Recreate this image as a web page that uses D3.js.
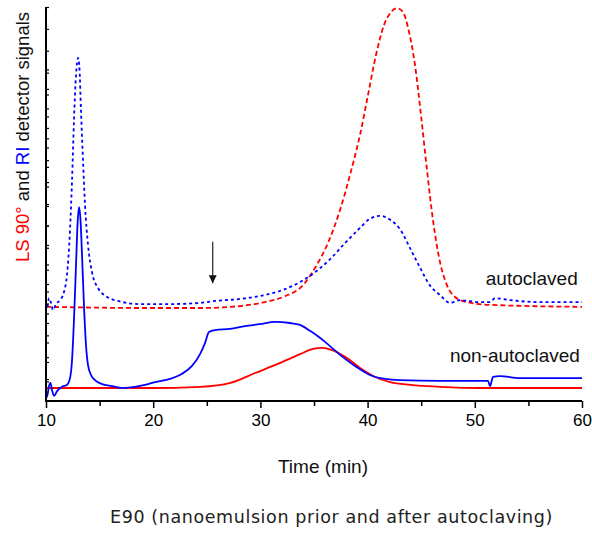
<!DOCTYPE html>
<html>
<head>
<meta charset="utf-8">
<script src="https://cdn.jsdelivr.net/npm/d3@7"></script>
<style>
  body { margin: 0; background: #fff; }
  svg { display: block; }
</style>
</head>
<body>
<svg id="chart" width="592" height="533"></svg>
<script>
// [time (min), signal (a.u.)]
const lsNonAutoclaved = [
  [10, 3.3], [19.7, 3.3], [24.4, 3.6], [27.2, 4.6], [29.5, 7.1], [31.8, 9.6],
  [33.7, 11.9], [34.9, 13.2], [35.7, 13.5], [36.7, 12.9], [37.9, 11.2], [39.3, 8.4],
  [40.7, 6.1], [42.1, 4.8], [44.0, 4.1], [46.8, 3.6], [50.5, 3.3], [60, 3.3]
]
const riNonAutoclaved = [
  [10, 2.3], [10.09, 1.0], [10.28, 3.8], [10.42, 4.6], [10.56, 2.8], [10.75, 1.3],
  [11.03, 2.5], [11.49, 3.6], [11.96, 4.1], [12.24, 5.8], [12.43, 10.4], [12.61, 20.6],
  [12.8, 34.5], [12.94, 44.7], [13.08, 49.2], [13.22, 45.9], [13.36, 37.1], [13.54, 24.4],
  [13.73, 14.2], [13.92, 9.1], [14.2, 6.6], [14.57, 5.3], [15.22, 4.3], [16.16, 3.8],
  [17.28, 3.3], [18.3, 3.6], [19.24, 4.1], [20.17, 4.8], [21.57, 5.6], [22.69, 6.9],
  [23.62, 8.9], [24.37, 11.9], [24.83, 14.7], [25.2, 17.5], [25.77, 18.0], [27.16, 18.3],
  [28.56, 19.0], [29.96, 19.5], [31.36, 20.1], [32.76, 19.8], [33.69, 19.3], [34.63, 17.8],
  [36.03, 15.0], [37.43, 11.7], [38.82, 8.9], [40.22, 6.6], [41.62, 5.6], [43.02, 5.3],
  [46.75, 5.1], [51.23, 5.1], [51.42, 3.8], [51.7, 6.1], [52.35, 6.3], [54.2, 5.8], [60, 5.8]
]
const lsAutoclaved = [
  [10, 23.9], [19.7, 23.6], [24.37, 23.6], [28.1, 24.1], [30.4, 25.1], [32.3, 26.6],
  [33.97, 29.4], [35.1, 33.8], [36.3, 40.1], [37.43, 48.5], [38.36, 57.4], [39.29, 67.5],
  [40.04, 77.7], [40.78, 87.8], [41.53, 95.4], [42.18, 98.7], [42.74, 99.7], [43.3, 98.7],
  [43.86, 93.7], [44.42, 85.3], [44.98, 72.6], [45.54, 58.6], [46.1, 45.9], [46.75, 35.3],
  [47.4, 29.4], [48.15, 26.4], [49.27, 25.1], [51.42, 24.4], [60, 23.9]
]
const riAutoclaved = [
  [10, 24.4], [10.09, 23.4], [10.28, 26.1], [10.47, 24.9], [10.65, 23.1], [10.93, 24.6],
  [11.31, 25.6], [11.68, 27.7], [11.96, 32.0], [12.24, 43.4], [12.43, 56.1], [12.61, 71.3],
  [12.8, 82.7], [12.99, 87.1], [13.13, 84.0], [13.26, 73.9], [13.45, 61.2], [13.64, 49.7],
  [13.92, 39.6], [14.29, 32.7], [14.85, 28.7], [15.6, 26.6], [16.72, 25.4], [18.77, 24.6],
  [21.57, 24.6], [24.37, 24.9], [25.77, 25.4], [28.1, 25.9], [30.4, 26.9], [32.3, 28.4],
  [33.7, 30.2], [35.1, 32.7], [36.5, 36.0], [37.9, 40.1], [39.1, 43.4], [40.2, 46.2],
  [41.16, 47.0], [42.1, 46.0], [43.0, 43.7], [43.96, 38.8], [44.9, 33.8], [45.8, 29.4],
  [46.75, 26.9], [47.7, 24.9], [48.6, 25.6], [50.5, 25.1], [51.4, 25.1], [51.9, 26.1],
  [53.3, 25.6], [56.1, 25.1], [60, 25.1]
]

const xTicks = [10, 20, 30, 40, 50, 60]
const xMinorTicks = [15, 25, 35, 45, 55]
const labels = [
  { text: "autoclaved", t: 59.6, s: 29.4 },
  { text: "non-autoclaved", t: 59.8, s: 9.9 }
]
const arrowMark = { t: 25.55, from: 40.4, to: 29.9 }

const svg = d3.select("#chart")
const x = d3.scaleLinear().domain([10, 60]).range([46, 582])
const y = d3.scaleLinear().domain([0, 100]).range([401, 7])
// two sets of unlabeled minor ticks on the signal axis
const yTicksA = d3.scaleLinear().domain([0, 18]).range([401, 7])
const yTicksB = d3.scaleLinear().domain([0, 18.2]).range([401, 46])

const line = d3.line()
  .x(d => x(d[0]))
  .y(d => y(d[1]))
  .curve(d3.curveMonotoneX)

function drawSeries(data, color, dash) {
  svg.append("path")
    .datum(data)
    .attr("d", line)
    .attr("fill", "none")
    .attr("stroke", color)
    .attr("stroke-width", 1.8)
    .attr("stroke-dasharray", dash)
    .attr("stroke-linejoin", "round")
}

drawSeries(lsNonAutoclaved, "#ff0000", null)
drawSeries(lsAutoclaved, "#ff0000", "5,3")
drawSeries(riAutoclaved, "#0000ff", "3,3")
drawSeries(riNonAutoclaved, "#0000ff", null)

// x axis
const xAxis = svg.append("g")
  .attr("transform", `translate(0, ${y(0)})`)
  .call(d3.axisBottom(x).tickValues(xTicks).tickSize(7).tickPadding(6).tickFormat(d3.format("d")))
xAxis.call(g => g.select(".domain").attr("stroke", "#000").attr("stroke-width", 2).attr("d", `M${x(10)},0H${x(60)}`))
xAxis.selectAll(".tick line").attr("stroke", "#000").attr("stroke-width", 1.5)
xAxis.selectAll(".tick text")
  .attr("font-family", "Liberation Sans, Arial, sans-serif")
  .attr("font-size", 17)
  .attr("fill", "#000")
svg.append("g")
  .attr("transform", `translate(0, ${y(0)})`)
  .call(d3.axisBottom(x).tickValues(xMinorTicks).tickSize(5).tickFormat(""))
  .call(g => g.select(".domain").remove())
  .selectAll(".tick line").attr("stroke", "#000").attr("stroke-width", 1.5)

// y axis
svg.append("line")
  .attr("x1", x(10)).attr("x2", x(10))
  .attr("y1", y(0) + 1).attr("y2", y(100))
  .attr("stroke", "#000").attr("stroke-width", 2)
function yMinor(scale, values) {
  svg.append("g")
    .attr("transform", `translate(${x(10)}, 0)`)
    .call(d3.axisRight(scale).tickValues(values).tickSize(3).tickFormat(""))
    .call(g => g.select(".domain").remove())
    .selectAll(".tick line").attr("stroke", "#000").attr("stroke-width", 1.2)
}
yMinor(yTicksA, d3.range(1, 19))
yMinor(yTicksB, d3.range(0, 18))

// axis titles
svg.append("text")
  .attr("x", (x(10) + x(60)) / 2 + 9)
  .attr("y", 473)
  .attr("text-anchor", "middle")
  .attr("font-family", "Liberation Sans, Arial, sans-serif")
  .attr("font-size", 19)
  .attr("fill", "#111")
  .text("Time (min)")

const yTitle = svg.append("text")
  .attr("transform", `translate(29, 137) rotate(-90)`)
  .attr("text-anchor", "middle")
  .attr("font-family", "Liberation Sans, Arial, sans-serif")
  .attr("font-size", 18.5)
  .attr("fill", "#111")
yTitle.append("tspan").attr("fill", "#ff0000").text("LS 90°")
yTitle.append("tspan").text(" and ")
yTitle.append("tspan").attr("fill", "#0000ff").text("RI")
yTitle.append("tspan").text(" detector signals")

// curve labels
svg.selectAll(".curve-label")
  .data(labels)
  .join("text")
  .attr("class", "curve-label")
  .attr("x", d => x(d.t))
  .attr("y", d => y(d.s))
  .attr("text-anchor", "end")
  .attr("font-family", "Liberation Sans, Arial, sans-serif")
  .attr("font-size", 19)
  .attr("fill", "#111")
  .text(d => d.text)

// arrow marker
svg.append("defs").append("marker")
  .attr("id", "arrowhead")
  .attr("viewBox", "0 0 10 10")
  .attr("refX", 10).attr("refY", 5)
  .attr("markerWidth", 10).attr("markerHeight", 8)
  .attr("markerUnits", "userSpaceOnUse")
  .attr("orient", "auto")
  .append("path")
  .attr("d", "M0,0L10,5L0,10Z")
  .attr("fill", "#111")
svg.append("line")
  .attr("x1", x(arrowMark.t)).attr("x2", x(arrowMark.t))
  .attr("y1", y(arrowMark.from)).attr("y2", y(arrowMark.to))
  .attr("stroke", "#333").attr("stroke-width", 1.3)
  .attr("marker-end", "url(#arrowhead)")

// caption
svg.append("text")
  .attr("x", 110)
  .attr("y", 523)
  .attr("font-family", "DejaVu Sans, Verdana, sans-serif")
  .attr("font-size", 17.5)
  .attr("letter-spacing", 0.6)
  .attr("fill", "#222")
  .text("E90 (nanoemulsion prior and after autoclaving)")
</script>
</body>
</html>
